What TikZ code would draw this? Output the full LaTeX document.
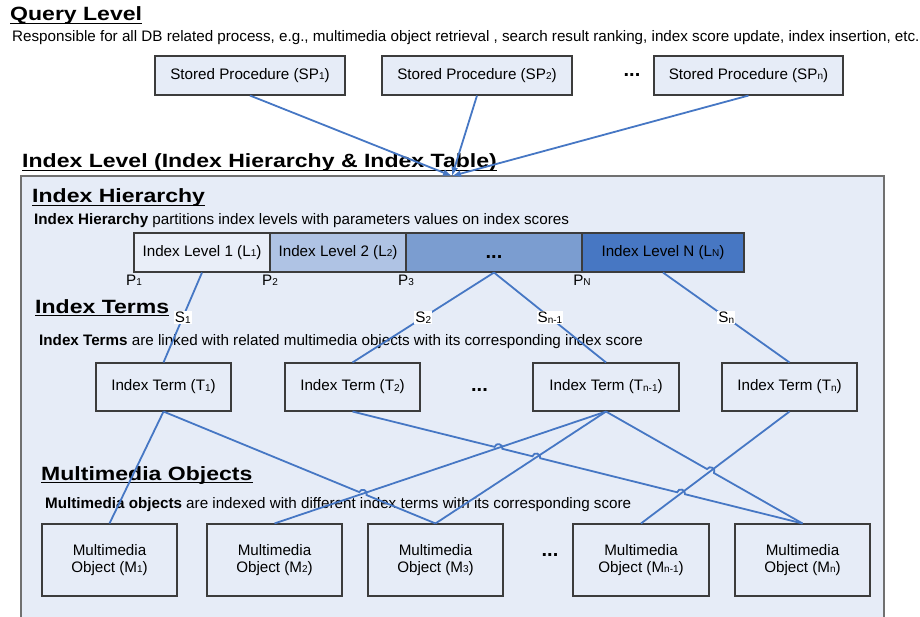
\documentclass[tikz,border=0pt]{standalone}
\usepackage{fontspec}
\setmainfont{Liberation Sans}
\usetikzlibrary{arrows.meta,calc,intersections}
\definecolor{bgblue}{HTML}{E6ECF7}
\definecolor{spfill}{HTML}{E6ECF7}
\definecolor{lvone}{HTML}{E9EEF8}
\definecolor{lvtwo}{HTML}{AFC3E4}
\definecolor{lvdots}{HTML}{7B9DD0}
\definecolor{lvn}{HTML}{4777C3}
\definecolor{linkblue}{HTML}{4677C4}
\definecolor{boxedge}{HTML}{3C3C3C}
\definecolor{frameedge}{HTML}{707070}
\newcommand{\sbs}[1]{\raisebox{-0.5pt}{\fontsize{10}{10}\selectfont #1}}
\newcommand{\ttl}[1]{\scalebox{1.2}[1]{\fontsize{19.2}{19}\selectfont\bfseries #1}}
\begin{document}
\begin{tikzpicture}[x=1pt,y=-1pt,
  every node/.style={font=\fontsize{15.2}{17}\selectfont, inner sep=0pt},
  spbox/.style={draw=boxedge, line width=1.1pt, fill=spfill, minimum width=190pt, minimum height=39pt},
  lvbox/.style={draw=boxedge, line width=1.1pt, minimum height=39pt},
  tbox/.style={draw=boxedge, line width=1.1pt, minimum width=135pt, minimum height=48pt},
  mbox/.style={draw=boxedge, line width=1.1pt, minimum width=135pt, minimum height=72pt, align=center},
  heading/.style={anchor=base west},
  plain/.style={anchor=base west},
  plabel/.style={anchor=base},
  dots/.style={anchor=base, font=\fontsize{20}{20}\selectfont\bfseries},
  slabel/.style={fill=white, inner sep=1pt},
  link/.style={draw=linkblue, line width=1.8pt},
  arrowlink/.style={link, -{Latex[length=9pt,width=7pt]}},
  hop/.style={bend left=90, looseness=1.6},
  uline/.style={line width=1.7pt, black}]
\useasboundingbox (0,0) rectangle (920,617);
% frame
\fill[bgblue] (21,176) rectangle (884,617);
\draw[frameedge, line width=1.8pt] (21,617) -- (21,176) -- (884,176) -- (884,617);

% headings
\node[heading] (ql) at (10,21) {\ttl{Query Level}};
\draw[uline] ([yshift=-2.6pt]ql.base west) -- ([yshift=-2.6pt]ql.base east);
\node[plain] (qdesc) at (12,41.5) {Responsible for all DB related process, e.g., multimedia object retrieval , search result ranking, index score update, index insertion, etc.};

\node[heading] (il) at (22,168) {\ttl{Index Level (Index Hierarchy \& Index Table)}};
\draw[uline] ([yshift=-2.6pt]il.base west) -- ([yshift=-2.6pt]il.base east);

\node[heading] (ih) at (32,203) {\ttl{Index Hierarchy}};
\draw[uline] ([yshift=-2.6pt]ih.base west) -- ([yshift=-2.6pt]ih.base east);
\node[plain] (ihdesc) at (34,225) {\textbf{Index Hierarchy} partitions index levels with parameters values on index scores};

\node[heading] (itt) at (35,313) {\ttl{Index Terms}};
\draw[uline] ([yshift=-2.6pt]itt.base west) -- ([yshift=-2.6pt]itt.base east);
\node[plain] (itdesc) at (39,345) {\textbf{Index Terms} are linked with related multimedia objects with its corresponding index score};

\node[heading] (mot) at (41,480) {\ttl{Multimedia Objects}};
\draw[uline] ([yshift=-2.6pt]mot.base west) -- ([yshift=-2.6pt]mot.base east);
\node[plain] (modesc) at (45,508) {\textbf{Multimedia objects} are indexed with different index terms with its corresponding score};

% stored procedures
\node[spbox] (sp1) at (250,75.5) {Stored Procedure (SP\sbs{1})};
\node[spbox] (sp2) at (477,75.5) {Stored Procedure (SP\sbs{2})};
\node[spbox, minimum width=189pt] (spn) at (748.5,75.5) {Stored Procedure (SP\sbs{n})};
\node[dots] (spdots) at (632,77) {...};
\coordinate (hub) at (452,176);
\draw[arrowlink] (sp1.south) -- (hub);
\draw[arrowlink] (sp2.south) -- (hub);
\draw[arrowlink] (spn.south) -- (hub);

% index hierarchy bar
\node[lvbox, fill=lvone, minimum width=136pt] (l1) at (202,252.5) {Index Level 1 (L\sbs{1})};
\node[lvbox, fill=lvtwo, minimum width=136pt] (l2) at (338,252.5) {Index Level 2 (L\sbs{2})};
\node[lvbox, fill=lvdots, minimum width=176pt] (ld) at (494,252.5) {};
\node[dots] (lddots) at (494,259) {...};
\node[lvbox, fill=lvn, minimum width=162pt] (lnn) at (663,252.5) {Index Level N (L\sbs{N})};
\node[plabel] (p1) at (134,285.5) {P\sbs{1}};
\node[plabel] (p2) at (270,285.5) {P\sbs{2}};
\node[plabel] (p3) at (406,285.5) {P\sbs{3}};
\node[plabel] (pn) at (582,285.5) {P\sbs{N}};

% index terms
\node[tbox] (t1) at (163.5,387) {Index Term (T\sbs{1})};
\node[tbox] (t2) at (352.5,387) {Index Term (T\sbs{2})};
\node[dots] (tdots) at (479.5,391) {...};
\node[tbox, minimum width=146pt] (tn1) at (606,387) {Index Term (T\sbs{n-1})};
\node[tbox] (tn) at (789.5,387) {Index Term (T\sbs{n})};

\draw[link] (l1.south) -- node[slabel] {S\sbs{1}} (t1.north);
\draw[link] (ld.south) -- node[slabel] {S\sbs{2}} (t2.north);
\draw[link] (ld.south) -- node[slabel] {S\sbs{n-1}} (tn1.north);
\draw[link] (lnn.south) -- node[slabel] {S\sbs{n}} (tn.north);

% multimedia objects
\node[mbox] (m1) at (109.5,560) {Multimedia\\Object (M\sbs{1})};
\node[mbox] (m2) at (274.5,560) {Multimedia\\Object (M\sbs{2})};
\node[mbox] (m3) at (435.5,560) {Multimedia\\Object (M\sbs{3})};
\node[dots] (mdots) at (550,556) {...};
\node[mbox, minimum width=136pt] (mm) at (641,560) {Multimedia\\Object (M\sbs{n-1})};
\node[mbox] (mn) at (802.5,560) {Multimedia\\Object (M\sbs{n})};

% crossing detection
\path[name path=pa] (t2.south) -- (mn.north);
\path[name path=pb] (tn1.south) -- (m2.north);
\path[name path=pc] (tn1.south) -- (m3.north);
\path[name path=pd] (tn.south) -- (mm.north);
\path[name path=pe] (t1.south) -- (m3.north);
\path[name path=pf] (tn1.south) -- (mn.north);
\path[name intersections={of=pa and pb, by=xab}];
\path[name intersections={of=pa and pc, by=xac}];
\path[name intersections={of=pa and pd, by=xad}];
\path[name intersections={of=pe and pb, by=xeb}];
\path[name intersections={of=pf and pd, by=xfd}];

% term to object links
\draw[link] (t1.south) -- (m1.north);
\draw[link] (tn1.south) -- (m2.north);
\draw[link] (tn1.south) -- (m3.north);
\draw[link] (tn.south) -- (mm.north);
\draw[link] (t1.south) -- ($(xeb)!4pt!(t1.south)$) to[hop] ($(xeb)!4pt!(m3.north)$) -- (m3.north);
\draw[link] (tn1.south) -- ($(xfd)!4pt!(tn1.south)$) to[hop] ($(xfd)!4pt!(mn.north)$) -- (mn.north);
\draw[link] (t2.south)
  -- ($(xab)!4pt!(t2.south)$) to[hop] ($(xab)!4pt!(mn.north)$)
  -- ($(xac)!4pt!(t2.south)$) to[hop] ($(xac)!4pt!(mn.north)$)
  -- ($(xad)!4pt!(t2.south)$) to[hop] ($(xad)!4pt!(mn.north)$)
  -- (mn.north);
\end{tikzpicture}
\end{document}
